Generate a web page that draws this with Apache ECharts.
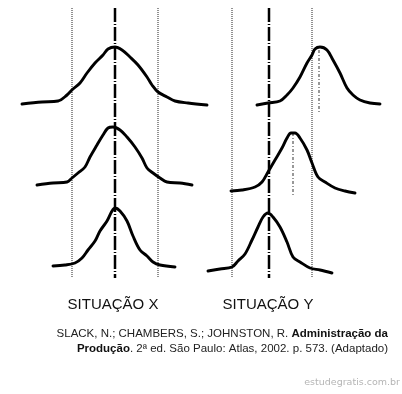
<!DOCTYPE html>
<html>
<head>
<meta charset="utf-8">
<script src="https://cdn.jsdelivr.net/npm/echarts@6/dist/echarts.min.js"></script>
<style>
html,body{margin:0;padding:0;background:#fff;}
#c{width:402px;height:394px;}
</style>
</head>
<body>
<div id="c"></div>
<script>
// x = offset from the target (centre) line, y = vertical position (top = 0)
const panelTitles = ['SITUAÇÃO X', 'SITUAÇÃO Y'];
const limitsX = [-43, 43];
const limitsY = [-37, 43];
const targetValue = 0;
const lineSpan = [8, 278];

const curveX1 = [[-93,104],[-73,102],[-57,101],[-48,95],[-42,89],[-35,83],[-28,73],[-20,63],[-12,55],[-7,49],[0,47],[7,50],[15,57],[23,65],[32,77],[37,85],[43,92],[52,97],[60,101],[73,103],[92,105]];
const curveX2 = [[-78,185],[-62,183],[-48,182],[-43,178],[-37,173],[-30,167],[-25,157],[-18,145],[-12,135],[-7,128],[-2,127],[5,130],[12,137],[20,147],[27,158],[32,168],[38,173],[45,178],[52,182],[65,183],[77,185]];
const curveX3 = [[-62,266],[-50,265],[-40,263],[-33,258],[-27,250],[-20,241],[-15,231],[-8,221],[-3,211],[0,208],[5,211],[12,221],[18,236],[25,250],[32,256],[38,262],[45,265],[60,267]];

const curveY1 = [[-12,105],[-1,103],[11,101],[18,95],[24,88],[31,77],[38,63],[43,55],[46,49],[51,47],[58,50],[64,60],[71,73],[78,88],[84,95],[91,100],[101,103],[111,104]];
const curveY2 = [[-38,191],[-27,190],[-14,187],[-7,182],[-1,172],[6,160],[13,148],[18,138],[22,133],[26,133],[31,138],[38,150],[43,163],[49,177],[56,182],[66,188],[76,191],[86,193]];
const curveY3 = [[-61,271],[-49,269],[-37,267],[-31,261],[-24,254],[-17,240],[-11,227],[-6,217],[-1,213],[4,217],[11,227],[18,242],[24,257],[31,262],[41,268],[51,270],[63,273]];

const meanLinesY = [[50, 50, 112], [24, 133, 197]]; // [x, yStart, yEnd]

const citationLine1a = 'SLACK, N.; CHAMBERS, S.; JOHNSTON, R. ';
const citationLine1b = 'Administração da';
const citationLine2a = 'Produção';
const citationLine2b = '. 2ª ed. São Paulo: Atlas, 2002. p. 573. (Adaptado)';
const watermark = 'estudegratis.com.br';

const chart = echarts.init(document.getElementById('c'), null, {renderer: 'canvas'});

function vline(gi, x, style) {
  return {
    type: 'line', xAxisIndex: gi, yAxisIndex: gi, silent: true, symbol: 'none', clip: false,
    data: [[x, lineSpan[0]], [x, lineSpan[1]]],
    lineStyle: style, z: 1
  };
}
function curve(gi, data) {
  return {
    type: 'line', xAxisIndex: gi, yAxisIndex: gi, silent: true, symbol: 'none', clip: false,
    smooth: 0.35, data: data,
    lineStyle: {color: '#000', width: 2.9, cap: 'round', join: 'round'}, z: 3
  };
}
const limitStyle = {color: '#222', width: 1, type: [1, 1]};
const targetStyle = {color: '#000', width: 2.5, type: [14, 2, 1, 2]};

const series = [];
[limitsX, limitsY].forEach((lims, gi) => {
  lims.forEach(x => series.push(vline(gi, x, limitStyle)));
  series.push(vline(gi, targetValue, targetStyle));
});
[curveX1, curveX2, curveX3].forEach(d => series.push(curve(0, d)));
[curveY1, curveY2, curveY3].forEach(d => series.push(curve(1, d)));
meanLinesY.forEach(m => series.push({
  type: 'line', xAxisIndex: 1, yAxisIndex: 1, silent: true, symbol: 'none', clip: false,
  data: [[m[0], m[1]], [m[0], m[2]]],
  lineStyle: {color: '#777', width: 1.5, type: [3, 2, 1, 2]}, z: 2
}));

const axisOff = {show: false};
chart.setOption({
  backgroundColor: '#fff',
  animation: false,
  grid: [
    {left: 0, top: 0, width: 230, height: 394},
    {left: 180, top: 0, width: 222, height: 394}
  ],
  xAxis: [
    Object.assign({type: 'value', gridIndex: 0, min: -115, max: 115}, axisOff),
    Object.assign({type: 'value', gridIndex: 1, min: -89, max: 133}, axisOff)
  ],
  yAxis: [
    Object.assign({type: 'value', gridIndex: 0, min: 0, max: 394, inverse: true}, axisOff),
    Object.assign({type: 'value', gridIndex: 1, min: 0, max: 394, inverse: true}, axisOff)
  ],
  series: series,
  graphic: [
    {type: 'text', x: 113, y: 305, style: {text: panelTitles[0], font: '15px "Liberation Sans", Arial, sans-serif', fill: '#111', align: 'center', verticalAlign: 'middle'}},
    {type: 'text', x: 268, y: 305, style: {text: panelTitles[1], font: '15px "Liberation Sans", Arial, sans-serif', fill: '#111', align: 'center', verticalAlign: 'middle'}},
    {type: 'text', x: 388, y: 326, style: {
      text: '{n|' + citationLine1a + '}{b|' + citationLine1b + '}\n{b|' + citationLine2a + '}{n|' + citationLine2b + '}',
      align: 'right', verticalAlign: 'top',
      rich: {
        n: {fontFamily: '"Liberation Sans", Arial, sans-serif', fontSize: 11.5, fill: '#222', color: '#222', lineHeight: 15},
        b: {fontFamily: '"Liberation Sans", Arial, sans-serif', fontSize: 11.5, fontWeight: 'bold', fill: '#111', color: '#111', lineHeight: 15}
      }
    }},
    {type: 'text', x: 400, y: 388, style: {text: watermark, font: '9.5px "DejaVu Sans", sans-serif', fill: '#b5b5b5', align: 'right', verticalAlign: 'bottom'}}
  ]
});
</script>
</body>
</html>
